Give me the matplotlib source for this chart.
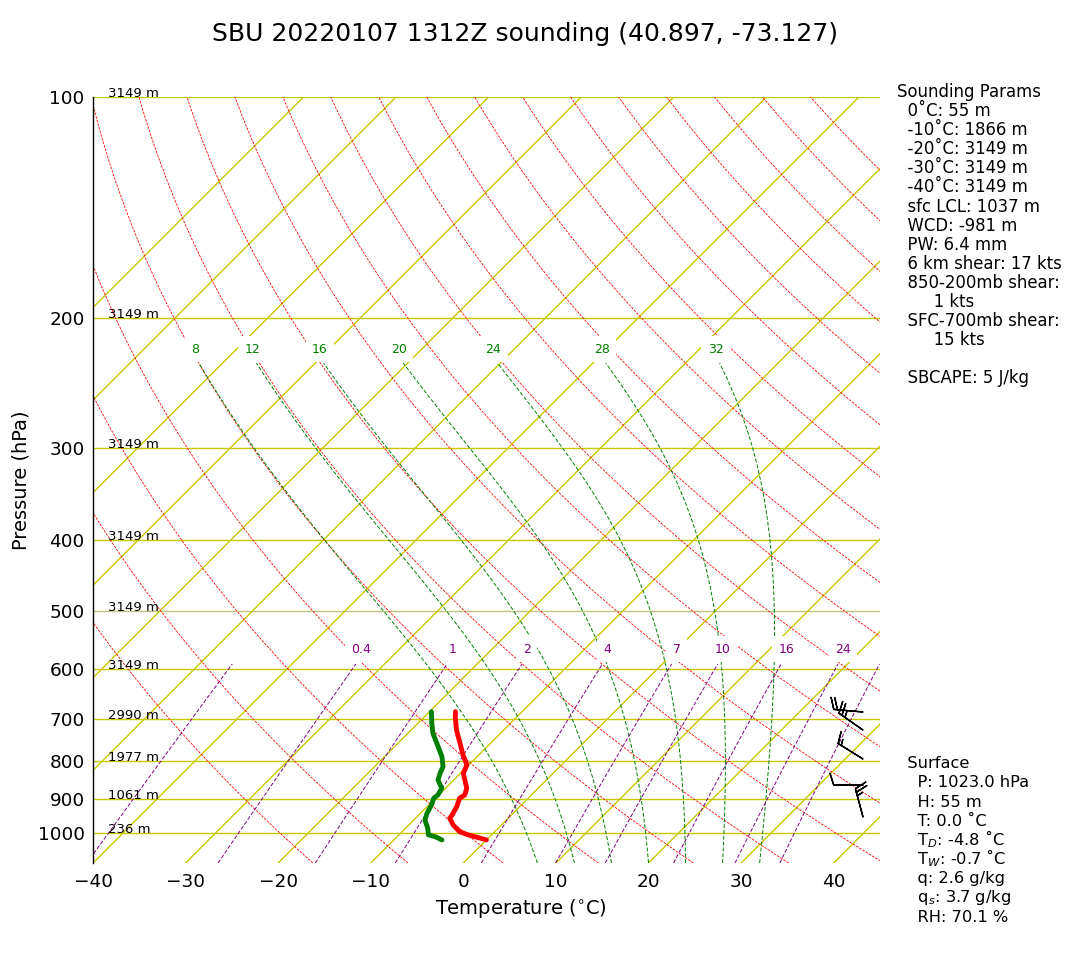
import numpy as np
import matplotlib
matplotlib.use("Agg")
import matplotlib.pyplot as plt
import matplotlib.transforms as mtransforms
from matplotlib.ticker import NullLocator, FixedLocator, FixedFormatter

# temperature profile (hPa, degC)
t_pres = [1023.4, 1016.1, 1007.5, 997.2, 976.6, 956.3, 946.4, 922.1, 898.2, 889.0,
          870.6, 848.3, 830.7, 809.4, 784.5, 756.0, 725.5, 699.2, 684.9]
t_vals = [0.0, -1.1, -2.5, -3.8, -5.2, -6.3, -6.4, -6.8, -7.4, -7.2,
          -7.7, -8.8, -9.7, -10.2, -11.7, -13.3, -15.1, -16.5, -17.2]

# dewpoint profile (hPa, degC)
td_pres = [1023.4, 1012.9, 1007.5, 986.6, 961.3, 941.3, 917.2, 898.2, 889.0,
           870.6, 848.3, 830.7, 813.6, 788.5, 764.1, 732.8, 710.3, 684.9]
td_vals = [-4.8, -5.9, -6.8, -7.6, -8.8, -9.3, -9.7, -10.2, -10.1,
           -10.4, -11.7, -12.2, -12.6, -13.8, -15.3, -17.3, -18.5, -19.8]

# winds
wind_pres = [952.5, 861.6, 794.4, 725.5, 685.6]
wind_dir = [345, 270, 302, 305, 275]
wind_kts = [25, 10, 15, 25, 20]

# heights at mandatory levels
hgt_pres = [100, 200, 300, 400, 500, 600, 700, 800, 900, 1000]
hgt_text = ["3149 m", "3149 m", "3149 m", "3149 m", "3149 m", "3149 m",
            "2990 m", "1977 m", "1061 m", "236 m"]

# background lines
isotherms = np.arange(-100, 50, 10)
dry_thetas = np.arange(250, 450, 10)           # K
moist_t0 = [8, 12, 16, 20, 24, 28, 32]          # degC at 1100 hPa
mix_ratios = [0.1, 0.4, 1, 2, 4, 7, 10, 16, 24, 32]   # g/kg
mix_labels = ["", "0.4", "1", "2", "4", "7", "10", "16", "24", ""]

title = "SBU 20220107 1312Z sounding (40.897, -73.127)"

params_text = ["Sounding Params",
               "  0˚C: 55 m",
               "  -10˚C: 1866 m",
               "  -20˚C: 3149 m",
               "  -30˚C: 3149 m",
               "  -40˚C: 3149 m",
               "  sfc LCL: 1037 m",
               "  WCD: -981 m",
               "  PW: 6.4 mm",
               "  6 km shear: 17 kts",
               "  850-200mb shear:",
               "       1 kts",
               "  SFC-700mb shear:",
               "       15 kts",
               "",
               "  SBCAPE: 5 J/kg"]

surface_text = ["  Surface",
                "    P: 1023.0 hPa",
                "    H: 55 m",
                "    T: 0.0 ˚C",
                "    T$_D$: -4.8 ˚C",
                "    T$_W$: -0.7 ˚C",
                "    q: 2.6 g/kg",
                "    q$_s$: 3.7 g/kg",
                "    RH: 70.1 %"]

P_BOT, P_TOP = 1100, 100

# thermodynamics helpers
Rd = 287.04749
Cp = 1004.6662
Lv = 2.50084e6
EPS = 0.62196


def sat_mr(p, tk):
    es = 6.112 * np.exp(17.67 * (tk - 273.15) / (tk - 29.65))
    return EPS * es / (p - es)


def moist_dtdlnp(p, tk):
    rs = sat_mr(p, tk)
    return (Rd * tk + Lv * rs) / (Cp + Lv * Lv * rs * EPS / (Rd * tk * tk))


def moist_profile(t0, pres):
    # simple forward stepping in ln(p)
    out = [t0 + 273.15]
    for i in range(1, len(pres)):
        t = out[-1]
        out.append(t + np.log(pres[i] / pres[i - 1]) * moist_dtdlnp(pres[i - 1], t))
    return np.array(out) - 273.15


def dewpoint_from_mr(p, w):
    e = p * w / (EPS + w)
    a = np.log(e / 6.112)
    return 243.5 * a / (17.67 - a)


W, H = 1080, 960
fig = plt.figure(figsize=(W / 100, H / 100), dpi=100)
ax_l, ax_r, ax_t, ax_b = 93, 880, 97, 863
ax = fig.add_axes([ax_l / W, 1 - ax_b / H, (ax_r - ax_l) / W, (ax_b - ax_t) / H])
ax.set_yscale("log")
ax.set_ylim(P_BOT, P_TOP)
ax.set_xlim(-40, 45)

# skew-T transform: 45 degree shear in axes space
shear = np.arctan((ax_b - ax_t) / (ax_r - ax_l))
skew = ax.transScale + ax.transLimits + mtransforms.Affine2D().skew(shear, 0) + ax.transAxes
side = mtransforms.blended_transform_factory(ax.transAxes, ax.transData)
moist_lbl_tr = mtransforms.offset_copy(skew, fig, x=-4, y=14, units="dots")
mix_lbl_tr = mtransforms.offset_copy(skew, fig, x=5, y=15, units="dots")
lbl_box = dict(boxstyle="square,pad=0.5", fc="white", ec="none")

yellow = "#c8c800"

# isobars
for p in hgt_pres:
    c = "#c4c47c" if p == 500 else yellow
    ax.axhline(p, color=c, lw=1.0, zorder=1)

# isotherms
for t in isotherms:
    ax.plot([t, t], [P_BOT, P_TOP], color=yellow, lw=1.0, transform=skew, zorder=1)

# dry adiabats
p_dry = np.geomspace(P_BOT, P_TOP, 120)
for th in dry_thetas:
    ax.plot(th * (p_dry / 1000.0) ** 0.2857 - 273.15, p_dry, color="red", lw=0.6,
            ls="--", dashes=(3, 1.5), transform=skew, zorder=2)

# moist adiabats
p_moist = np.geomspace(P_BOT, 230, 30)
for t0 in moist_t0:
    prof = moist_profile(t0, p_moist)
    ax.plot(prof, p_moist, color="green", lw=0.7, ls="--",
            dashes=(4, 2), transform=skew, zorder=2)
    ax.text(prof[-1], p_moist[-1], str(t0), color="green", fontsize=9,
            ha="center", va="center", transform=moist_lbl_tr, zorder=4, bbox=lbl_box)

# mixing ratio lines
p_mix = np.geomspace(P_BOT, 590, 40)
for w, lbl in zip(mix_ratios, mix_labels):
    td_line = dewpoint_from_mr(p_mix, w / 1000.0)
    ax.plot(td_line, p_mix, color="purple", lw=0.7,
            ls="--", dashes=(4, 2), transform=skew, zorder=2)
    if lbl:
        ax.text(td_line[-1], p_mix[-1], lbl, color="purple", fontsize=9,
                ha="center", va="center", transform=mix_lbl_tr, zorder=4, bbox=lbl_box)

# sounding
ax.plot(t_vals, t_pres, color="red", lw=3.5, transform=skew, zorder=5,
        solid_capstyle="round", solid_joinstyle="round")
ax.plot(td_vals, td_pres, color="green", lw=3.5, transform=skew, zorder=5,
        solid_capstyle="round", solid_joinstyle="round")

# wind barbs
rad = np.deg2rad(wind_dir)
u = -np.array(wind_kts) * np.sin(rad)
v = -np.array(wind_kts) * np.cos(rad)
ax.barbs(np.full(len(wind_pres), (863 - ax_l) / (ax_r - ax_l)), wind_pres, u, v,
         transform=side, length=6.5, lw=1.0, color="k", zorder=6, clip_on=False)

# heights
for p, s in zip(hgt_pres, hgt_text):
    ax.text(0.019, p, s, transform=side, fontsize=9.5, ha="left", va="baseline")

# axes styling
for s in ["top", "right", "bottom"]:
    ax.spines[s].set_visible(False)
ax.spines["left"].set_linewidth(1.0)
ax.yaxis.set_major_locator(FixedLocator(hgt_pres))
ax.yaxis.set_major_formatter(FixedFormatter([str(p) for p in hgt_pres]))
ax.yaxis.set_minor_locator(NullLocator())
ax.set_xticks(np.arange(-40, 41, 10))
ax.tick_params(axis="both", length=0, labelsize=13.3)
ax.tick_params(axis="x", pad=7)
ax.tick_params(axis="y", pad=6)
ax.set_xlabel("Temperature ($^{\\circ}$C)", fontsize=14)
ax.set_ylabel("Pressure (hPa)", fontsize=14)
ax.xaxis.set_label_coords((520.5 - ax_l) / (ax_r - ax_l), -(897 - ax_b) / (ax_b - ax_t))
ax.yaxis.set_label_coords(-(ax_l - 31) / (ax_r - ax_l), 0.5)

fig.text(525 / W, 1 - 41 / H, title, fontsize=18, ha="center", va="baseline")

for i, s in enumerate(params_text):
    fig.text(897 / W, 1 - (97 + i * 19.09) / H, s, fontsize=11.9, ha="left", va="baseline")
for i, s in enumerate(surface_text):
    fig.text(897 / W, 1 - (768.3 + i * 19.16) / H, s, fontsize=11.7, ha="left", va="baseline")

fig.savefig("out.png", dpi=100)
